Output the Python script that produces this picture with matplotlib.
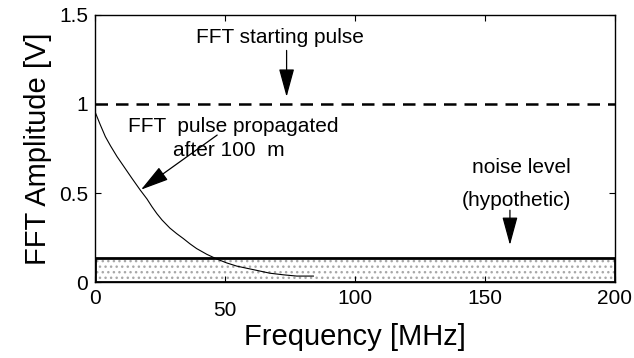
import matplotlib.pyplot as plt
from matplotlib.patches import Rectangle

plt.rcParams['font.family'] = ['Liberation Sans', 'DejaVu Sans']

# spectrum of the pulse after 100 m of propagation
freq_mhz = [0, 2, 4, 6, 8.5, 11, 14.2, 17.4, 20, 21.9, 23.8, 25.8, 28.8, 31.4, 34,
            36.5, 39.1, 43, 46.8, 50.6, 54.5, 58.3, 62.2, 67.3, 72.5, 77.6, 84]
amp_prop = [0.957, 0.885, 0.817, 0.765, 0.705, 0.652, 0.584, 0.518, 0.468, 0.425,
            0.386, 0.35, 0.305, 0.274, 0.246, 0.217, 0.19, 0.158, 0.132, 0.11,
            0.092, 0.08, 0.068, 0.052, 0.043, 0.036, 0.036]
# short stub near zero at the end of the trace
tail_freq = [84.6, 88.5]
tail_amp = [0.003, 0.003]

start_level = 1.0
noise_level = 0.135
f_max = 200

xticks = [0, 50, 100, 150, 200]
yticks = [0, 0.5, 1, 1.5]
ytick_labels = ['0', '0.5', '1', '1.5']

fig = plt.figure(figsize=(6.34, 3.58), dpi=100)
ax = fig.add_axes([0.1498, 0.2109, 0.8202, 0.7479])

# noise band: grey dots with a heavy black outline
ax.add_patch(Rectangle((0, 0), f_max, noise_level, facecolor='white',
                       edgecolor='#a8a8a8', hatch='...', lw=0, zorder=1))
ax.add_patch(Rectangle((0, 0), f_max, noise_level, fill=False,
                       edgecolor='black', lw=2.0, zorder=3))

ax.axhline(start_level, color='black', lw=1.8, ls=(0, (5, 3.2)), zorder=2)
ax.plot(freq_mhz, amp_prop, color='black', lw=0.8, zorder=2)
ax.plot(tail_freq, tail_amp, color='#555555', lw=1.0, zorder=2)

ax.set_xlim(0, f_max)
ax.set_ylim(0, 1.5)
ax.set_xticks(xticks)
ax.set_xticklabels([str(t) for t in xticks])
ax.set_yticks(yticks)
ax.set_yticklabels(ytick_labels)
ax.tick_params(direction='in', length=4, width=0.8, labelsize=15,
               top=True, right=True, pad=5)
# the "50" label sits lower than the others
for lbl in ax.get_xticklabels():
    if lbl.get_text() == '50':
        lbl.set_y(-0.045)
for sp in ax.spines.values():
    sp.set_linewidth(1.0)

ax.set_xlabel('Frequency [MHz]', fontsize=21, labelpad=2)
ax.set_ylabel('FFT Amplitude [V]', fontsize=21, labelpad=5)

arrow = dict(arrowstyle='-|>,head_length=1.1,head_width=0.3', color='black',
             lw=0.9, shrinkA=0, shrinkB=0, mutation_scale=16)

ax.text(71, 1.375, 'FFT starting pulse', ha='center', va='center', fontsize=15)
ax.annotate('', xy=(73.7, 1.04), xytext=(73.7, 1.30), arrowprops=arrow)

ax.text(53, 0.875, 'FFT  pulse propagated', ha='center', va='center', fontsize=15)
ax.text(51.5, 0.74, 'after 100  m', ha='center', va='center', fontsize=15)
ax.annotate('', xy=(17.7, 0.52), xytext=(47, 0.826), arrowprops=arrow)

ax.text(164, 0.647, 'noise level', ha='center', va='center', fontsize=15)
ax.text(162, 0.46, '(hypothetic)', ha='center', va='center', fontsize=15)
ax.annotate('', xy=(159.6, 0.21), xytext=(159.6, 0.405), arrowprops=arrow)

fig.savefig('out.png', dpi=100)
